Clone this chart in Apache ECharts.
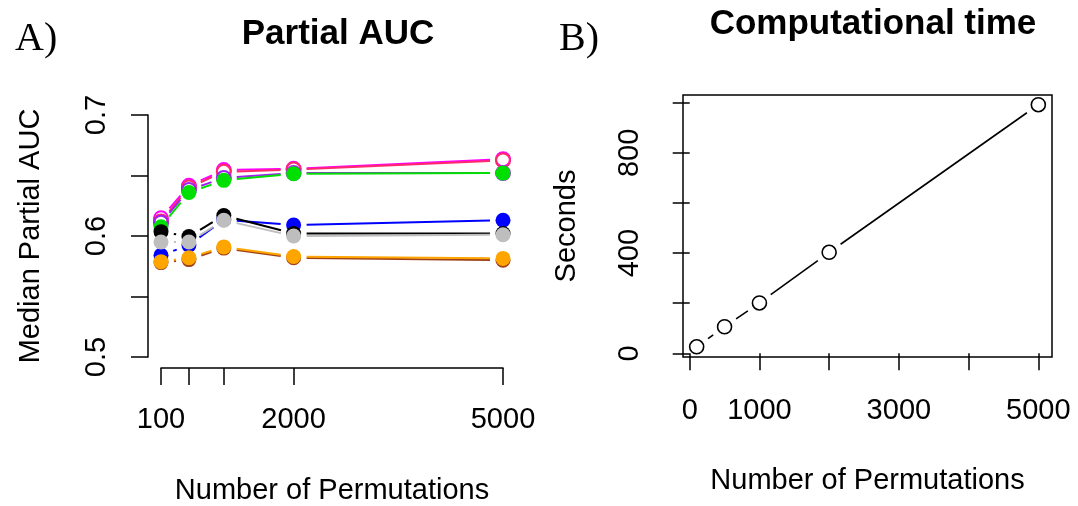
<!DOCTYPE html>
<html>
<head>
<meta charset="utf-8">
<script src="https://cdn.jsdelivr.net/npm/echarts@6/dist/echarts.min.js"></script>
<style>html,body{margin:0;padding:0;background:#fff}#c{width:1078px;height:506px}</style>
</head>
<body>
<div id="c"></div>
<script>
// ---- data ----
const perms = [100, 500, 1000, 2000, 5000];
const aucMagenta = [0.6146, 0.6415, 0.6545, 0.6555, 0.6635];
const aucRed     = [0.6120, 0.6400, 0.6530, 0.6550, 0.6625];
const aucPurple  = [0.6110, 0.6380, 0.6480, 0.6520, 0.6520];
const aucGreen   = [0.6077, 0.6360, 0.6460, 0.6515, 0.6520];
const aucBlue    = [0.5840, 0.5925, 0.6135, 0.6090, 0.6130];
const aucBlack   = [0.6036, 0.5995, 0.6170, 0.6020, 0.6020];
const aucGray    = [0.5950, 0.5950, 0.6130, 0.6000, 0.6010];
const aucBrown   = [0.5780, 0.5805, 0.5900, 0.5820, 0.5800];
const aucOrange  = [0.5788, 0.5820, 0.5910, 0.5830, 0.5815];
const seconds    = [26, 106, 201, 403, 992];

const xTicksA = [100, 500, 1000, 2000, 5000];
const xLabelsA = [100, 2000, 5000];
const yTicksA = [0.5, 0.55, 0.6, 0.65, 0.7];
const yLabelsA = [0.5, 0.6, 0.7];
const xTicksB = [0, 1000, 2000, 3000, 4000, 5000];
const xLabelsB = [0, 1000, 3000, 5000];
const yTicksB = [0, 200, 400, 600, 800, 1000];
const yLabelsB = [0, 400, 800];

// ---- styles ----
const aucSeries = [
  {name: 'magenta', data: aucMagenta, color: '#ff00ff', open: true},
  {name: 'red',     data: aucRed,     color: '#ff2a6a', open: true},
  {name: 'purple',  data: aucPurple,  color: '#a020f0', open: true},
  {name: 'green',   data: aucGreen,   color: '#00e000', open: false},
  {name: 'blue',    data: aucBlue,    color: '#0000ff', open: false},
  {name: 'black',   data: aucBlack,   color: '#000000', open: false},
  {name: 'gray',    data: aucGray,    color: '#bebebe', open: false},
  {name: 'brown',   data: aucBrown,   color: '#a0401a', open: false},
  {name: 'orange',  data: aucOrange,  color: '#ffa500', open: false}
];

const FONT = '"Liberation Sans", Arial, sans-serif';
const GAP = 13;
const plain = v => String(v);

function segs(xs, ys) {
  const out = [];
  for (let i = 0; i < xs.length - 1; i++) out.push([xs[i], ys[i], xs[i + 1], ys[i + 1]]);
  return out;
}
function gapRenderer(color, width, gap) {
  return function (params, api) {
    const p1 = api.coord([api.value(0), api.value(1)]);
    const p2 = api.coord([api.value(2), api.value(3)]);
    const dx = p2[0] - p1[0], dy = p2[1] - p1[1];
    const d = Math.sqrt(dx * dx + dy * dy);
    if (d <= 2 * gap + 1) return null;
    const ux = dx / d, uy = dy / d;
    return {
      type: 'line',
      shape: {x1: p1[0] + ux * gap, y1: p1[1] + uy * gap, x2: p2[0] - ux * gap, y2: p2[1] - uy * gap},
      style: {stroke: color, lineWidth: width}
    };
  };
}

const series = [];
aucSeries.forEach((s, k) => {
  series.push({
    type: 'custom', xAxisIndex: 0, yAxisIndex: 0, clip: false, z: 2 + k * 2,
    renderItem: gapRenderer(s.color, 2, GAP),
    encode: {x: [0, 2], y: [1, 3]},
    data: segs(perms, s.data), silent: true
  });
  series.push({
    type: 'scatter', xAxisIndex: 0, yAxisIndex: 0, clip: false, z: 3 + k * 2,
    symbol: 'circle', symbolSize: s.open ? 14 : 15,
    itemStyle: s.open ? {color: 'rgba(255,255,255,0)', borderColor: s.color, borderWidth: 2, opacity: 1}
                      : {color: s.color, borderColor: s.color, borderWidth: 0, opacity: 1},
    data: perms.map((p, i) => [p, s.data[i]]), silent: true
  });
});
series.push({
  type: 'custom', xAxisIndex: 1, yAxisIndex: 1, clip: false, z: 30,
  renderItem: gapRenderer('#000', 1.6, 14),
  encode: {x: [0, 2], y: [1, 3]},
  data: segs(perms, seconds), silent: true
});
series.push({
  type: 'scatter', xAxisIndex: 1, yAxisIndex: 1, clip: false, z: 31,
  symbol: 'circle', symbolSize: 14,
  itemStyle: {color: 'rgba(255,255,255,0)', borderColor: '#000', borderWidth: 1.6, opacity: 1},
  data: perms.map((p, i) => [p, seconds[i]]), silent: true
});

const axisTxt = {color: '#000', fontSize: 29, fontFamily: FONT};
const lineStyle = {color: '#000', width: 1.5};

const option = {
  animation: false,
  backgroundColor: '#fff',
  title: [
    {text: 'A)', left: 10, top: 14, textStyle: {fontFamily: '"Liberation Serif", "DejaVu Serif", serif', fontSize: 40, fontWeight: 'normal', color: '#000'}},
    {text: 'Partial AUC', left: 333, top: 12, textAlign: 'center', textStyle: {fontFamily: FONT, fontSize: 35, fontWeight: 'bold', color: '#000'}},
    {text: 'B)', left: 554, top: 14, textStyle: {fontFamily: '"Liberation Serif", "DejaVu Serif", serif', fontSize: 40, fontWeight: 'normal', color: '#000'}},
    {text: 'Computational time', left: 868, top: 2, textAlign: 'center', textStyle: {fontFamily: FONT, fontSize: 35, fontWeight: 'bold', color: '#000'}}
  ],
  grid: [
    {left: 161, right: 1078 - 503, top: 115, bottom: 506 - 357, containLabel: false},
    {left: 683, right: 1078 - 1052, top: 95, bottom: 506 - 357, show: true, borderColor: '#000', borderWidth: 1.5, backgroundColor: 'transparent', containLabel: false}
  ],
  xAxis: [
    {type: 'value', gridIndex: 0, min: 100, max: 5000, offset: 11,
     axisLine: {show: true, lineStyle}, splitLine: {show: false},
     axisTick: {show: true, length: 17, lineStyle, customValues: xTicksA},
     axisLabel: {customValues: xLabelsA, margin: 37, formatter: plain, ...axisTxt},
     name: 'Number of Permutations', nameLocation: 'middle', nameGap: 108, nameTextStyle: axisTxt},
    {type: 'value', gridIndex: 1, min: -96, max: 5196,
     axisLine: {show: false}, splitLine: {show: false},
     axisTick: {show: true, length: 17, lineStyle, customValues: xTicksB},
     axisLabel: {customValues: xLabelsB, margin: 39, formatter: plain, ...axisTxt},
     name: 'Number of Permutations', nameLocation: 'middle', nameGap: 109, nameTextStyle: axisTxt}
  ],
  yAxis: [
    {type: 'value', gridIndex: 0, min: 0.5, max: 0.7, offset: 13,
     axisLine: {show: true, lineStyle}, splitLine: {show: false},
     axisTick: {show: true, length: 17, lineStyle, customValues: yTicksA},
     axisLabel: {customValues: yLabelsA, margin: 37, rotate: 90, formatter: plain, ...axisTxt},
     name: 'Median Partial AUC', nameLocation: 'middle', nameGap: 103, nameRotate: 90, nameTextStyle: axisTxt},
    {type: 'value', gridIndex: 1, min: -14.7, max: 1030.7,
     axisLine: {show: false}, splitLine: {show: false},
     axisTick: {show: true, length: 17, lineStyle, customValues: yTicksB},
     axisLabel: {customValues: yLabelsB, margin: 39, rotate: 90, formatter: plain, ...axisTxt},
     name: 'Seconds', nameLocation: 'middle', nameGap: 102, nameRotate: 90, nameTextStyle: axisTxt}
  ],
  series
};
const chart = echarts.init(document.getElementById('c'), null, {renderer: 'canvas'});
chart.setOption(option);
</script>
</body>
</html>
